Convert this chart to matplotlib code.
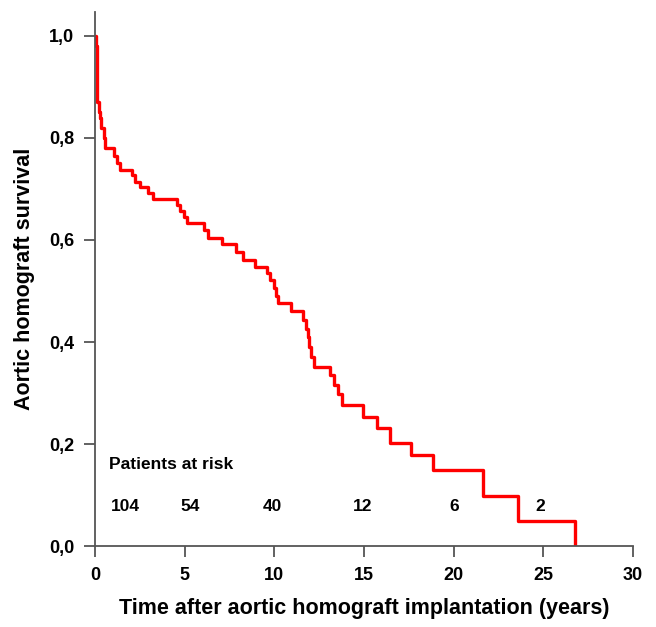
import matplotlib
matplotlib.use('Agg')
import matplotlib.pyplot as plt
from matplotlib.ticker import FuncFormatter

plt.rcParams['font.family'] = ['Liberation Sans', 'DejaVu Sans']

# Kaplan-Meier estimate (time in years, survival)
times = [0, 0.03, 0.08, 0.10, 0.13, 0.20, 0.30, 0.35, 0.50, 0.56, 1.05, 1.20, 1.40,
         2.04, 2.23, 2.51, 2.97, 3.25, 4.55, 4.74, 4.93, 5.15, 6.08, 6.32, 7.10,
         7.85, 8.27, 8.92, 9.58, 9.76, 9.95, 10.10, 10.22, 10.95, 11.62, 11.75,
         11.85, 11.95, 12.05, 12.18, 13.12, 13.30, 13.57, 13.76, 14.93, 15.71,
         16.45, 17.60, 18.87, 21.62, 23.61, 26.77]
survival = [1.0, 0.98, 0.95, 0.90, 0.87, 0.85, 0.84, 0.82, 0.80, 0.78, 0.765, 0.75, 0.737,
            0.727, 0.714, 0.704, 0.692, 0.680, 0.669, 0.656, 0.646, 0.633, 0.620, 0.604, 0.592,
            0.577, 0.561, 0.548, 0.535, 0.522, 0.505, 0.490, 0.476, 0.461, 0.443, 0.425,
            0.410, 0.390, 0.371, 0.352, 0.335, 0.316, 0.299, 0.276, 0.254, 0.231,
            0.203, 0.178, 0.149, 0.098, 0.049, 0.0]

at_risk = ['104', '54', '40', '12', '6', '2']
at_risk_x = [1.7, 5.3, 9.9, 14.9, 20.0, 24.8]

fig = plt.figure(figsize=(6.56, 6.27), dpi=100)
ax = fig.add_axes([0.145, 0.129, 0.82, 0.852])

ax.step(times, survival, where='post', color='#ff0000', linewidth=2.4)

ax.set_xlim(0, 30)
ax.set_ylim(0, 1.047)
ax.set_xticks([0, 5, 10, 15, 20, 25, 30])
ax.set_yticks([0, 0.2, 0.4, 0.6, 0.8, 1.0])
ax.yaxis.set_major_formatter(FuncFormatter(lambda v, p: f'{v:.1f}'.replace('.', ',')))

for s in ['top', 'right']:
    ax.spines[s].set_visible(False)
for s in ['left', 'bottom']:
    ax.spines[s].set_color('#555555')
    ax.spines[s].set_linewidth(1.3)
ax.tick_params(axis='both', direction='out', length=8, width=1.3, color='#555555',
               labelsize=13, pad=7)
for lbl in ax.get_xticklabels() + ax.get_yticklabels():
    lbl.set_fontweight('bold')

ax.set_xlabel('Time after aortic homograft implantation (years)', fontsize=15.5,
              fontweight='bold', labelpad=10)
ax.set_ylabel('Aortic homograft survival', fontsize=15.5, fontweight='bold', labelpad=10)

ax.text(0.75, 0.16, 'Patients at risk', fontsize=12.5, fontweight='bold', va='center')
for x, n in zip(at_risk_x, at_risk):
    ax.text(x, 0.078, n, fontsize=12.5, fontweight='bold', ha='center', va='center')

fig.savefig('out.png', dpi=100)
